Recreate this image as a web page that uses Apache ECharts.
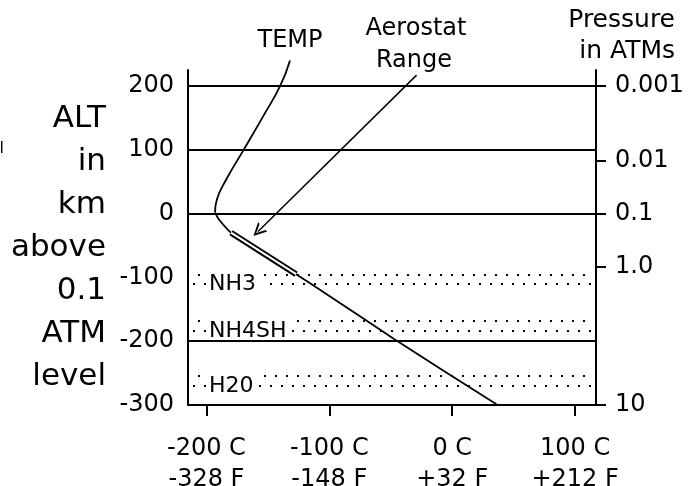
<!DOCTYPE html>
<html>
<head>
<meta charset="utf-8">
<script src="https://cdn.jsdelivr.net/npm/echarts@6/dist/echarts.min.js"></script>
<style>html,body{margin:0;padding:0;background:#fff;}#c{width:688px;height:486px;}</style>
</head>
<body>
<div id="c"></div>
<script>
// ---- data ----
const tempC  = [-132, -140, -154, -170, -184, -191.5, -193, -190, -180, -127, -100, -47, 36];
const altKm  = [240, 200, 152, 99, 53, 22, 2, -9, -30, -95, -129, -197, -299];
const turnIndex = 6; // coldest point: curve above is smooth, below nearly straight
const aerostatC   = [-180, -127];
const aerostatAlt = [-30, -95];
const gridAlts = [200, 100, 0, -200];
const altTicks = [-300, -200, -100, 0, 100, 200];
const xTicks   = [-200, -100, 0, 100];
const xLabelsC = ['-200 C', '-100 C', '0 C', '100 C'];
const xLabelsF = ['-328 F', '-148 F', '+32 F', '+212 F'];
const pressureAlt    = [200, 83, 0, -84, -300];
const pressureLabels = ['0.001', '0.01', '0.1', '1.0', '10'];
const bandNames  = ['NH3', 'NH4SH', 'H20'];
const bandTop    = [-96, -168, -255];
const bandBottom = [-111, -184, -270];
const arrowFrom = [-29, 217];
const arrowTo   = [-158, -28];

// ---- chart ----
const F = 'DejaVu Sans';
const xMin = -215, xMax = 117, yMin = -300, yMax = 225;
const chart = echarts.init(document.getElementById('c'), null, {renderer: 'canvas'});

const bandData = bandNames.map((n, i) => [bandTop[i], bandBottom[i], i]);
const tempPts = tempC.map((t, i) => [t, altKm[i]]);

function renderBand(params, api) {
  const i = api.value(2);
  const yT = Math.round(api.coord([xMin, api.value(0)])[1]);
  const yB = Math.round(api.coord([xMin, api.value(1)])[1]);
  const cs = params.coordSys;
  const right = cs.x + cs.width - 3;
  const children = [];
  for (let k = 0; ; k++) {
    const xb = Math.round(cs.x + 5.5 + 11 * k);
    const xt = Math.round(cs.x + 11 * (k + 1));
    if (xb > right) break;
    children.push({type: 'rect', shape: {x: xb - 1, y: yB - 1, width: 2, height: 2}, style: {fill: '#000'}});
    if (xt <= right) children.push({type: 'rect', shape: {x: xt - 1, y: yT - 1, width: 2, height: 2}, style: {fill: '#000'}});
  }
  children.push({
    type: 'text', x: cs.x + 18, y: (yT + yB) / 2 + 5,
    style: {text: bandNames[i], font: '22px ' + F, fill: '#000', backgroundColor: '#fff',
            padding: [1, 5, 1, 3], align: 'left', verticalAlign: 'middle',
            textAlign: 'left', textVerticalAlign: 'middle'}
  });
  return {type: 'group', children: children};
}

const chevron = 'path://M5,0 L10,10 L8.4,10 L5,3.2 L1.6,10 L0,10 Z';

function txt(text, x, y, size, align, lh) {
  return {type: 'text', x: x, y: y, z: 10,
    style: {text: text, font: size + 'px ' + F, fill: '#000', align: align, textAlign: align,
            verticalAlign: 'top', textVerticalAlign: 'top', lineHeight: lh || size * 1.2}};
}

const option = {
  animation: false,
  backgroundColor: '#fff',
  grid: {left: 188, right: 92, top: 70, bottom: 81, containLabel: false, outerBoundsMode: 'none'},
  xAxis: {
    type: 'value', min: xMin, max: xMax,
    axisLine: {show: true, onZero: false, lineStyle: {color: '#000', width: 2}},
    axisTick: {show: true, customValues: xTicks, length: 11, lineStyle: {color: '#000', width: 2}},
    axisLabel: {customValues: xTicks, margin: 28, lineHeight: 31, fontSize: 24, fontFamily: F, color: '#000',
      formatter: v => { const i = xTicks.indexOf(v); return xLabelsC[i] + '\n' + xLabelsF[i]; }},
    splitLine: {show: false}
  },
  yAxis: [{
    type: 'value', min: yMin, max: yMax, position: 'left',
    axisLine: {show: true, onZero: false, lineStyle: {color: '#000', width: 2}},
    axisTick: {show: false},
    axisLabel: {customValues: altTicks, margin: 14, fontSize: 24, fontFamily: F, color: '#000'},
    splitLine: {show: false}
  }, {
    type: 'value', min: yMin, max: yMax, position: 'right',
    axisLine: {show: true, onZero: false, lineStyle: {color: '#000', width: 2}},
    axisTick: {show: true, customValues: pressureAlt, length: 10, lineStyle: {color: '#000', width: 2}},
    axisLabel: {customValues: pressureAlt, margin: 19, fontSize: 24, fontFamily: F, color: '#000',
      formatter: v => pressureLabels[pressureAlt.indexOf(v)]},
    splitLine: {show: false}
  }],
  series: [{
    type: 'custom', renderItem: renderBand, data: bandData,
    encode: {y: [0, 1]}, silent: true, z: 1
  }, {
    type: 'line', name: 'TEMP upper', data: tempPts.slice(0, turnIndex + 1),
    smooth: 0.5, symbol: 'none', clip: false, z: 2,
    lineStyle: {color: '#000', width: 1.8},
    markLine: {
      silent: true, symbol: 'none', label: {show: false},
      lineStyle: {color: '#000', width: 2, type: 'solid'},
      data: gridAlts.map(a => ({yAxis: a}))
    }
  }, {
    type: 'line', name: 'TEMP lower', data: tempPts.slice(turnIndex),
    smooth: 0.15, symbol: 'none', clip: false, z: 2,
    lineStyle: {color: '#000', width: 1.8}
  }, {
    type: 'line', name: 'AerostatOuter', data: aerostatC.map((t, i) => [t, aerostatAlt[i]]),
    symbol: 'none', z: 3, lineStyle: {color: '#000', width: 6},
    markLine: {
      silent: true, label: {show: false}, symbol: ['none', chevron], symbolSize: [13, 13],
      lineStyle: {color: '#000', width: 1.5, type: 'solid'},
      data: [[{coord: arrowFrom}, {coord: arrowTo}]]
    }
  }, {
    type: 'line', name: 'AerostatInner', data: aerostatC.map((t, i) => [t, aerostatAlt[i]]),
    symbol: 'none', z: 4, lineStyle: {color: '#fff', width: 2}
  }],
  graphic: [
    txt('ALT\nin\nkm\nabove\n0.1\nATM\nlevel', 106, 97, 31, 'right', 43),
    txt('l', 4, 139, 16, 'right'),
    txt('TEMP', 290, 26, 24, 'center'),
    txt('Aerostat', 416, 14, 24, 'center'),
    txt('Range', 414, 46, 24, 'center'),
    txt('Pressure\nin ATMs', 675, 5, 25, 'right', 31)
  ]
};
chart.setOption(option);
</script>
</body>
</html>
